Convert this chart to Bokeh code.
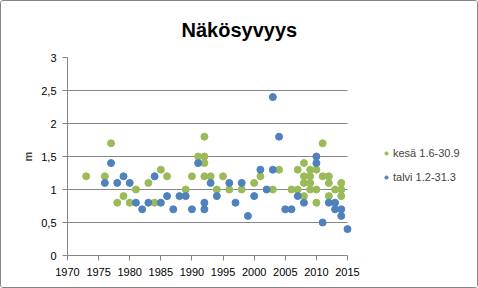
from bokeh.plotting import figure
from bokeh.models import FixedTicker, Legend, LegendItem, Range1d
from bokeh.embed import file_html
from bokeh.resources import INLINE

# kesä 1.6-30.9 (summer)
kesa_year = [1973, 1976, 1977, 1978, 1979, 1980, 1981, 1983, 1984, 1985, 1986,
             1989, 1990, 1991, 1992, 1992, 1992, 1992, 1993, 1994, 1995, 1996,
             1998, 2000, 2001, 2003, 2004, 2006, 2007, 2007, 2008, 2008, 2008,
             2008, 2009, 2009, 2009, 2009, 2010, 2010, 2010, 2011, 2011, 2012,
             2012, 2012, 2013, 2014, 2014, 2014]
kesa_m = [1.2, 1.2, 1.7, 0.8, 0.9, 0.8, 1.0, 1.1, 0.8, 1.3, 1.2,
          1.0, 1.2, 1.5, 1.8, 1.5, 1.4, 1.2, 1.2, 1.0, 1.2, 1.0,
          1.0, 1.1, 1.2, 1.0, 1.3, 1.0, 1.0, 1.3, 1.4, 1.2, 1.1,
          0.9, 1.3, 1.2, 1.1, 1.0, 1.3, 1.0, 0.8, 1.7, 1.2, 1.2,
          1.1, 0.9, 1.0, 1.1, 1.0, 0.9]

# talvi 1.2-31.3 (winter)
talvi_year = [1976, 1977, 1978, 1979, 1980, 1981, 1982, 1983, 1984, 1985, 1986,
              1987, 1988, 1989, 1990, 1991, 1992, 1992, 1993, 1994, 1996, 1997,
              1998, 1999, 2000, 2001, 2002, 2003, 2003, 2004, 2005, 2006, 2007,
              2008, 2010, 2010, 2011, 2012, 2013, 2013, 2014, 2014, 2015]
talvi_m = [1.1, 1.4, 1.1, 1.2, 1.1, 0.8, 0.7, 0.8, 1.2, 0.8, 0.9,
           0.7, 0.9, 0.9, 0.7, 1.4, 0.8, 0.7, 1.1, 0.9, 1.1, 0.8,
           1.1, 0.6, 0.9, 1.3, 1.0, 2.4, 1.3, 1.8, 0.7, 0.7, 0.9,
           0.8, 1.5, 1.4, 0.5, 0.8, 0.8, 0.7, 0.7, 0.6, 0.4]

x_ticks = [1970, 1975, 1980, 1985, 1990, 1995, 2000, 2005, 2010, 2015]
y_ticks = [0, 0.5, 1, 1.5, 2, 2.5, 3]
y_labels = {0: "0", 0.5: "0,5", 1: "1", 1.5: "1,5", 2: "2", 2.5: "2,5", 3: "3"}

GREEN = "#9BBB59"
BLUE = "#4F81BD"
GRID = "#868686"
FONT = "Liberation Sans"

# frame is widened to the right so that the legend fits inside it;
# the axis and gridlines are bounded to 1970-2015 (280 px wide)
X0, X1 = x_ticks[0], x_ticks[-1]
frame_w = 478 - 66 - 1
x_end = X0 + (X1 - X0) * frame_w / 280.0

p = figure(width=478, height=288, output_backend="svg", toolbar_location=None,
           x_range=Range1d(X0, x_end), y_range=Range1d(0, 3),
           min_border_left=66, min_border_right=1, min_border_top=56,
           min_border_bottom=34)
p.outline_line_color = None
p.background_fill_color = "white"
p.border_fill_color = "white"

p.title.text = "Näkösyvyys"
p.title.text_font = FONT
p.title.text_font_size = "20px"
p.title.text_font_style = "bold"
p.title.text_color = "black"
p.title.align = "left"
p.title.vertical_align = "top"
p.title.offset = 114
p.title.standoff = 30

p.xgrid.grid_line_color = None
g = p.ygrid[0]
g.ticker = FixedTicker(ticks=y_ticks)
g.grid_line_color = GRID
if "cross_bounds" in g.properties():
    g.cross_bounds = (X0, X1)
else:
    g.visible = False
    p.segment(x0=[X0] * len(y_ticks), x1=[X1] * len(y_ticks), y0=y_ticks, y1=y_ticks,
              line_color=GRID, line_width=1, level="underlay")

p.xaxis.ticker = FixedTicker(ticks=x_ticks)
p.xaxis.bounds = (X0, X1)
p.yaxis.ticker = FixedTicker(ticks=y_ticks)
p.yaxis.major_label_overrides = y_labels
for ax in (p.xaxis, p.yaxis):
    ax.axis_line_color = GRID
    ax.major_tick_line_color = GRID
    ax.minor_tick_line_color = None
    ax.major_tick_in = 0
    ax.major_tick_out = 5
    ax.major_label_text_font = FONT
    ax.major_label_text_font_size = "11px"
    ax.major_label_text_color = "black"
p.xaxis.major_label_standoff = 7
p.yaxis.major_label_standoff = 6
p.yaxis.axis_label = "m"
p.yaxis.axis_label_text_font = FONT
p.yaxis.axis_label_text_font_size = "11px"
p.yaxis.axis_label_text_font_style = "bold"
p.yaxis.axis_label_standoff = 4
p.yaxis.major_label_orientation = "horizontal"

r_k = p.scatter(kesa_year, kesa_m, size=7, color=GREEN, line_color=GREEN)
r_t = p.scatter(talvi_year, talvi_m, size=7, color=BLUE, line_color=BLUE)

legend = Legend(items=[LegendItem(label="kesä 1.6-30.9", renderers=[r_k]),
                       LegendItem(label="talvi 1.2-31.3", renderers=[r_t])],
                location=(315, 72))
legend.border_line_color = None
legend.background_fill_alpha = 0
legend.padding = 0
legend.margin = 0
legend.glyph_width = 8
legend.glyph_height = 12
legend.label_height = 12
legend.spacing = 12
legend.label_standoff = 3
legend.label_text_font = FONT
legend.label_text_font_size = "11px"
p.add_layout(legend)

p.styles = {"border": "1px solid #868686", "border-radius": "3px", "box-sizing": "border-box"}

open("out.html", "w").write(file_html(p, INLINE))
